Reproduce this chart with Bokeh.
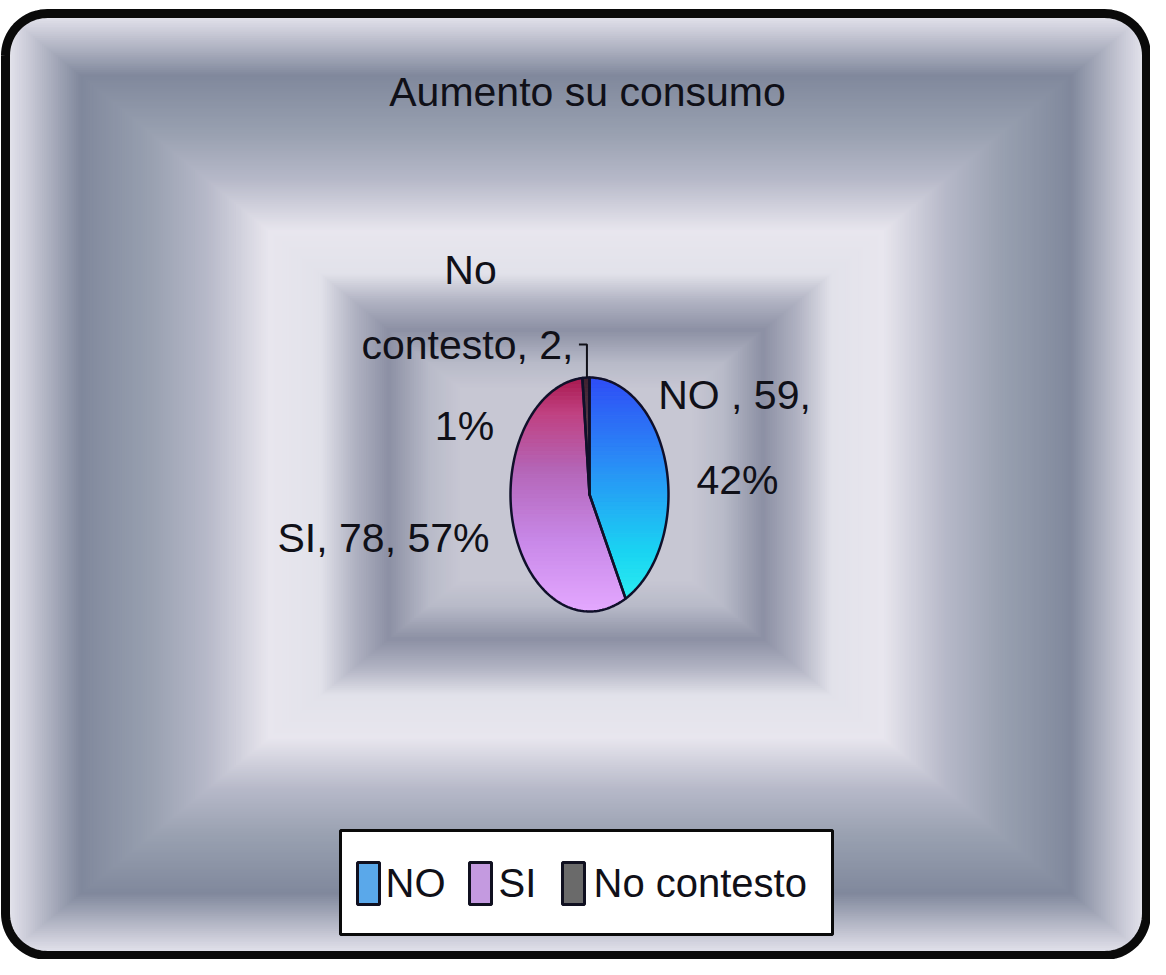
import numpy as np
from bokeh.plotting import figure
from bokeh.models import Range1d
from bokeh.embed import file_html
from bokeh.resources import INLINE
from bokeh.core.properties import value

# ---------------- data ----------------
categories = ["NO", "SI", "No contesto"]
counts = [59, 78, 2]
percent_labels = ["42%", "57%", "1%"]
title_text = "Aumento su consumo"

# ---------------- figure ----------------
W, H = 1150, 959
p = figure(width=W, height=H, x_range=Range1d(0, W), y_range=Range1d(H, 0),
           output_backend="svg", toolbar_location=None, min_border=0)
p.axis.visible = False
p.grid.visible = False
p.outline_line_color = None
p.background_fill_color = "white"
p.border_fill_color = "white"

FONT = value("Liberation Sans")


def h2r(h):
    h = h.lstrip("#")
    return np.array([int(h[i:i + 2], 16) for i in (0, 2, 4)], dtype=float)


def r2h(c):
    c = np.clip(np.round(c), 0, 255).astype(int)
    return "#%02x%02x%02x" % tuple(c)


def grad(stops_t, stops_c, t):
    cs = np.array([h2r(c) for c in stops_c])
    return r2h([np.interp(t, stops_t, cs[:, k]) for k in range(3)])


# ---------------- rectangular gradient background ----------------
xl, xr, yt, yb, rad = 5, 1146, 13, 955, 42
prof_t = [0.0, 0.03, 0.13, 0.25, 0.35, 0.46, 0.55, 0.61, 0.67, 0.74, 0.80, 1.0]
prof_c = ["#e6e6ee", "#d0d0dc", "#80889c", "#98a0b0", "#b6b8c8", "#e8e6ee",
          "#e2e2ea", "#b0b2c2", "#8c90a4", "#b8bac8", "#c8c8d4", "#c8c8d4"]
hw, hh = (xr - xl) / 2, (yb - yt) / 2
ts = np.arange(0, 0.80, 0.004)
p.quad(left=xl + ts * hw, right=xr - ts * hw, top=yt + ts * hh, bottom=yb - ts * hh,
       fill_color=[grad(prof_t, prof_c, t) for t in ts], line_color=None)

# white corner masks + rounded border
def arc(cxa, cya, a0, a1, n=20):
    th = np.linspace(a0, a1, n)
    return list(cxa + rad * np.cos(th)), list(cya + rad * np.sin(th))

corners = [
    (xl + rad, yt + rad, np.pi, 1.5 * np.pi, (xl - 12, yt - 12)),
    (xr - rad, yt + rad, 1.5 * np.pi, 2 * np.pi, (xr + 12, yt - 12)),
    (xr - rad, yb - rad, 0, 0.5 * np.pi, (xr + 12, yb + 12)),
    (xl + rad, yb - rad, 0.5 * np.pi, np.pi, (xl - 12, yb + 12)),
]
mx, my = [], []
for ccx, ccy, a0, a1, (px, py) in corners:
    ax, ay = arc(ccx, ccy, a0, a1)
    mx.append(ax + [px]); my.append(ay + [py])
p.patches(mx, my, fill_color="white", line_color=None)

bx, by = [], []
for ccx, ccy, a0, a1, _ in corners:
    ax, ay = arc(ccx, ccy, a0, a1)
    bx += ax; by += ay
bx.append(bx[0]); by.append(by[0])
p.line(bx, by, line_color="#0a0a0a", line_width=9)

# ---------------- title ----------------
p.text(x=[587], y=[91], text=[title_text], text_font=FONT, text_font_size="41px",
       text_align="center", text_baseline="middle", text_color="#101018")

# ---------------- elliptical pie with vertical gradients ----------------
pcx, pcy, pa, pb = 589, 494, 79, 117
fr = np.array(counts, dtype=float) / sum(counts)
ends = np.cumsum(fr) * 2 * np.pi
starts = ends - fr * 2 * np.pi


def wedge(th0, th1):
    n = max(4, int(300 * (th1 - th0) / (2 * np.pi)) + 2)
    th = np.linspace(th0, th1, n)
    return [(pcx, pcy)] + list(zip(pcx + pa * np.sin(th), pcy - pb * np.cos(th)))


def clip_half(pts, yc, sign):
    out = []
    n = len(pts)
    for i in range(n):
        P, Q = pts[i], pts[(i + 1) % n]
        fp, fq = sign * (P[1] - yc), sign * (Q[1] - yc)
        if fp >= 0:
            out.append(P)
        if (fp >= 0) != (fq >= 0):
            t = fp / (fp - fq)
            out.append((P[0] + t * (Q[0] - P[0]), P[1] + t * (Q[1] - P[1])))
    return out


slice_grads = [
    ([0, 0.35, 0.75, 1.0], ["#2f4cf6", "#2a8af6", "#1ad4f2", "#30f4f0"]),
    ([0, 0.15, 0.4, 0.7, 1.0], ["#a8184e", "#c04080", "#b466b8", "#c888e8", "#e4a8ff"]),
    ([0, 1.0], ["#402030", "#a0a0a0"]),
]

nb = 60
edges = np.linspace(pcy - pb - 1, pcy + pb + 1, nb + 1)
sx, sy, sc = [], [], []
polys = []
for k in range(len(counts)):
    poly = wedge(starts[k], ends[k])
    polys.append(poly)
    gt, gc = slice_grads[k]
    for j in range(nb):
        piece = clip_half(clip_half(poly, edges[j], 1), edges[j + 1], -1)
        if len(piece) < 3:
            continue
        u = ((edges[j] + edges[j + 1]) / 2 - (pcy - pb)) / (2 * pb)
        sx.append([q[0] for q in piece]); sy.append([q[1] for q in piece])
        sc.append(grad(gt, gc, u))
p.patches(sx, sy, fill_color=sc, line_color=sc, line_width=1)
p.patches([[q[0] for q in pl] + [pl[0][0]] for pl in polys],
          [[q[1] for q in pl] + [pl[0][1]] for pl in polys],
          fill_color=None, line_color="#10102a", line_width=2.5, line_join="round")

# leader line for the small slice
mid = (starts[2] + ends[2]) / 2
lx, ly = pcx + pa * np.sin(mid), pcy - pb * np.cos(mid)
p.line([lx - 7, lx + 1, lx + 1], [344, 344, ly], line_color="#101018", line_width=2)

# ---------------- data labels ----------------
lab_lines = [
    ["NO , %d," % counts[0], percent_labels[0]],
    ["SI, %d, %s" % (counts[1], percent_labels[1])],
    ["No", "contesto, %d," % counts[2], percent_labels[2]],
]
lab_pos = [
    [(734, 394), (737, 479)],
    [(383, 537)],
    [(470, 269), (467, 344), (464, 425)],
]
tx, ty, tt = [], [], []
for lines, pos in zip(lab_lines, lab_pos):
    for s, (x, y) in zip(lines, pos):
        tx.append(x); ty.append(y); tt.append(s)
p.text(x=tx, y=ty, text=tt, text_font=FONT, text_font_size="41px",
       text_align="center", text_baseline="middle", text_color="#101018")

# ---------------- legend ----------------
p.quad(left=[340], right=[832], top=[830], bottom=[934], fill_color="white",
       line_color="#0a0a0a", line_width=3)
leg_fill = ["#5aa8ea", "#c49ae0", "#6a6a6a"]
leg_x = [357, 469, 562]
p.quad(left=leg_x, right=[x + 22 for x in leg_x], top=[862] * 3, bottom=[904] * 3,
       fill_color=leg_fill, line_color="#101020", line_width=3)
p.text(x=[385, 498, 593], y=[882] * 3, text=categories, text_font=FONT,
       text_font_size="40px", text_align="left", text_baseline="middle",
       text_color="#101018")

open("out.html", "w").write(file_html(p, INLINE))
